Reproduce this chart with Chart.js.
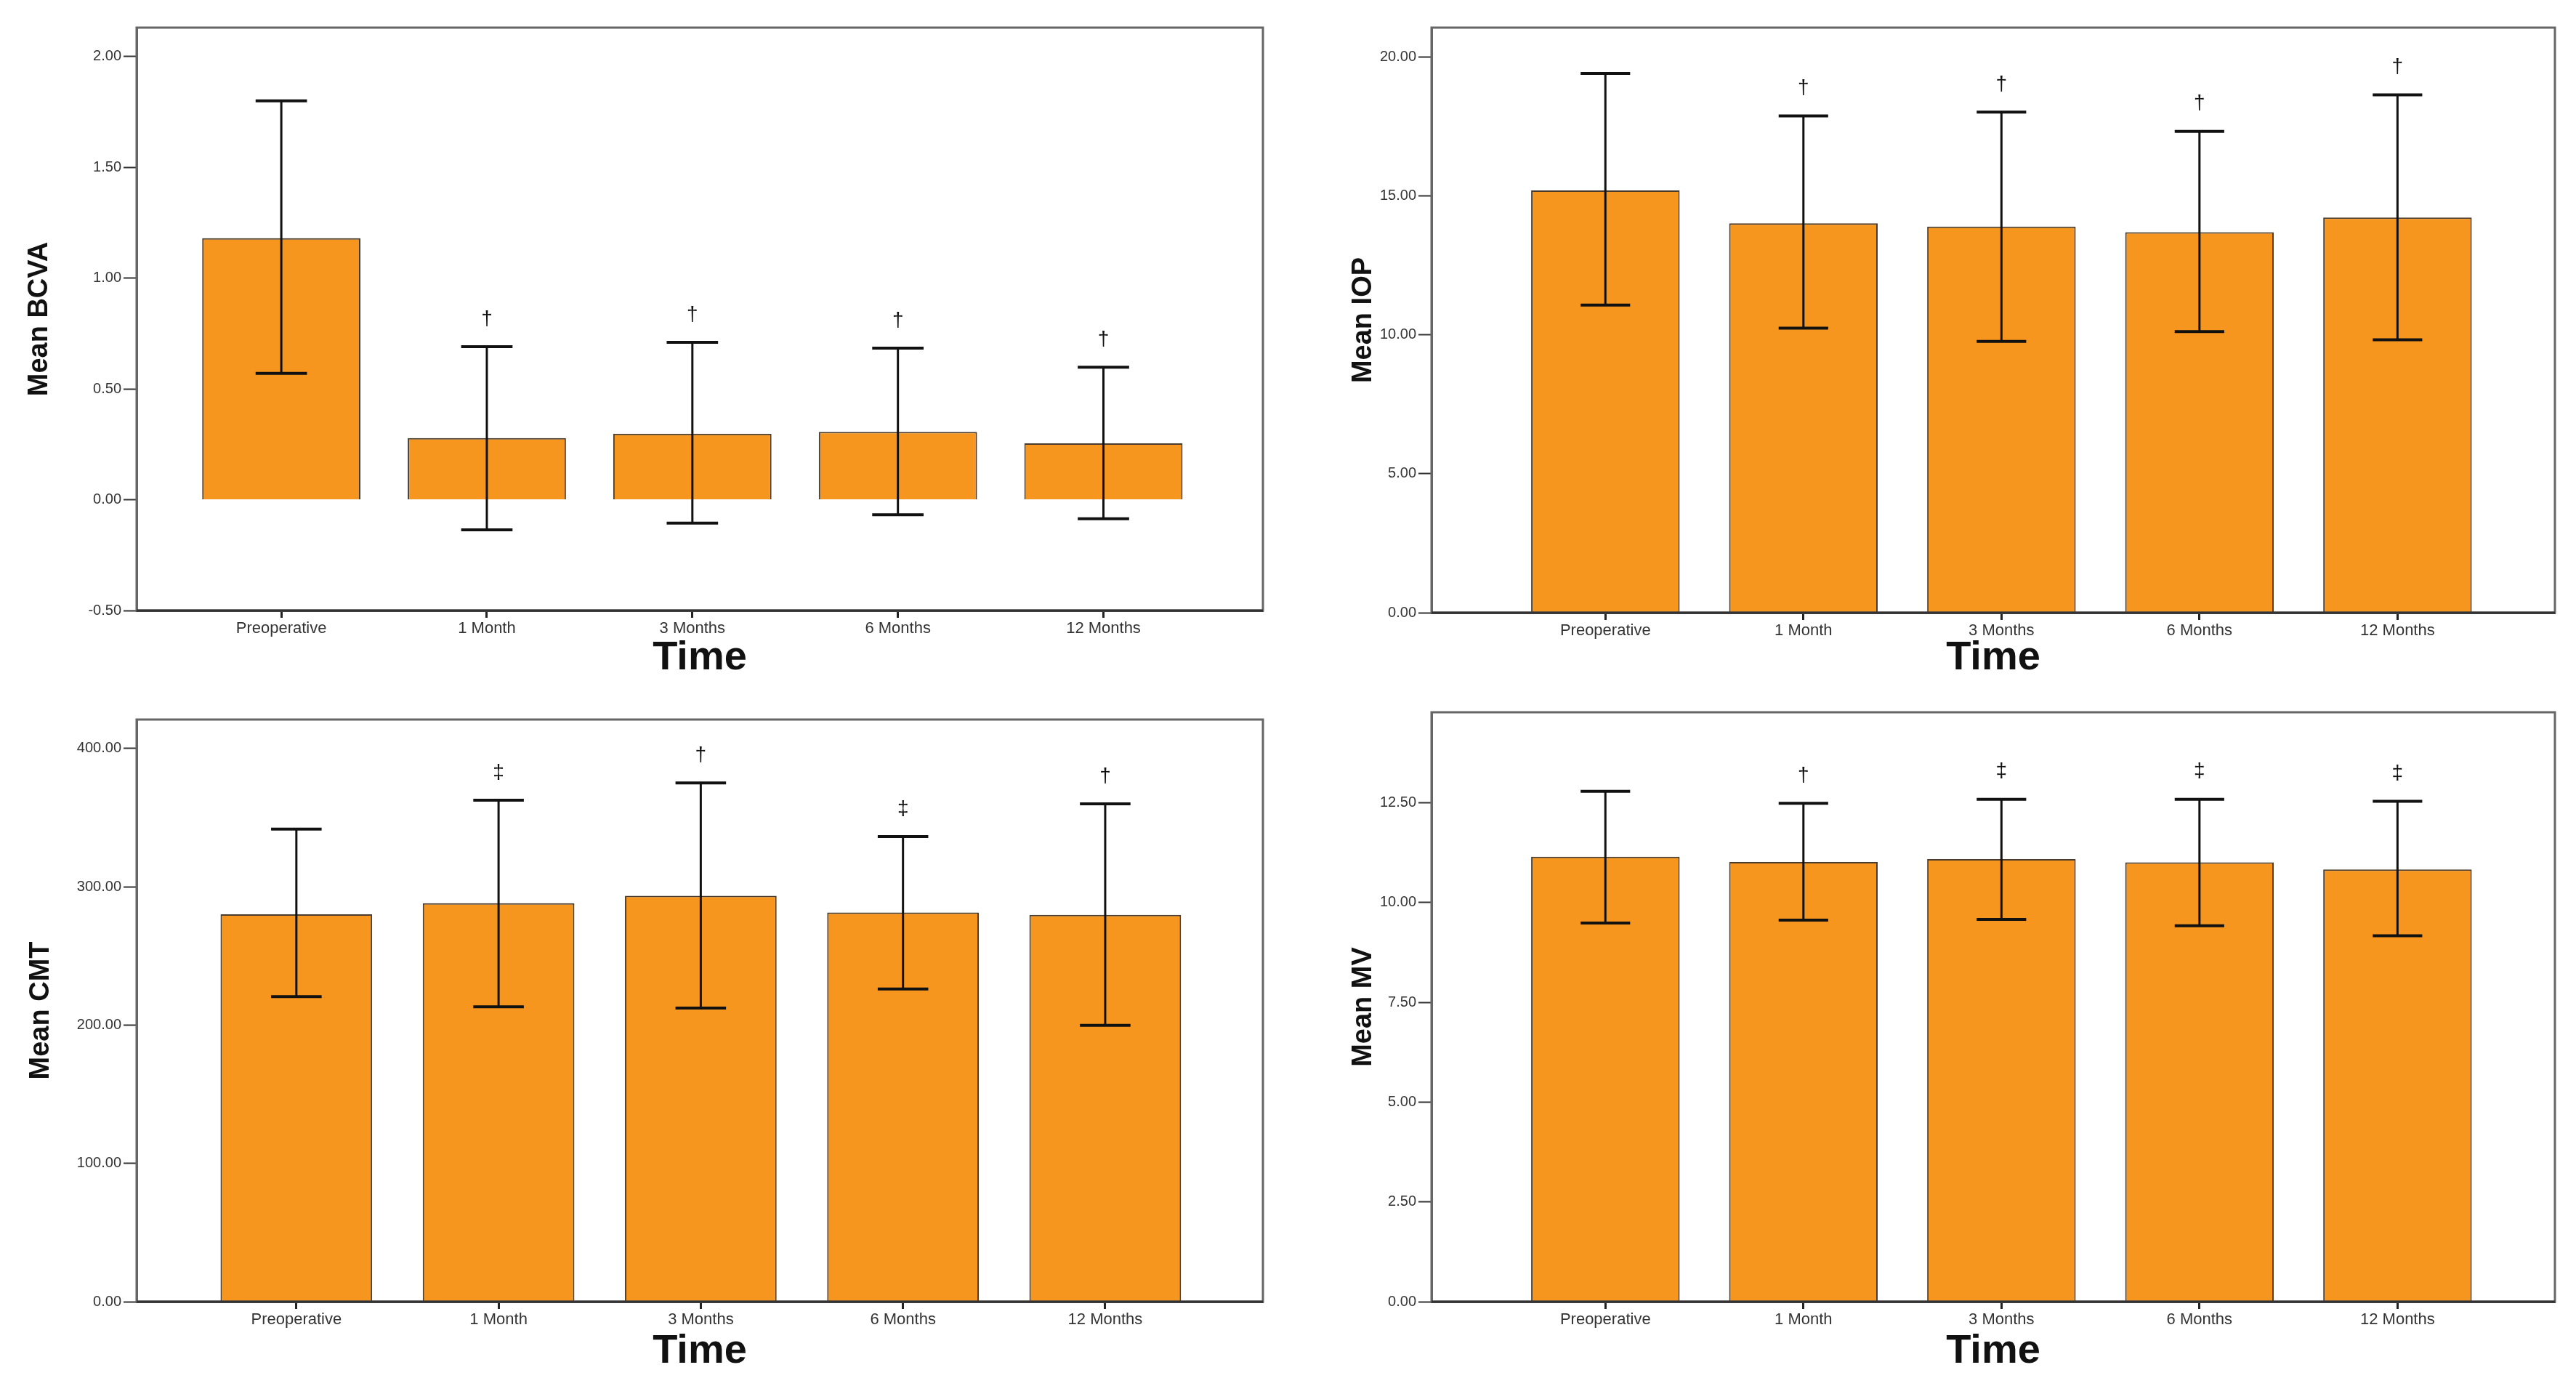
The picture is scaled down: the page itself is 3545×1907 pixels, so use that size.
<!DOCTYPE html>
<html>
<head>
<meta charset="utf-8">
<script src="https://cdn.jsdelivr.net/npm/chart.js@4.4.1/dist/chart.umd.min.js"></script>
<style>
  html, body { margin: 0; padding: 0; background: #fff; }
  .panel { position: absolute; }
</style>
</head>
<body>
<div class="panel" style="left:0;top:0;width:1772px;height:953px"><canvas id="bcva"></canvas></div>
<div class="panel" style="left:1772px;top:0;width:1773px;height:953px"><canvas id="iop"></canvas></div>
<div class="panel" style="left:0;top:953px;width:1772px;height:954px"><canvas id="cmt"></canvas></div>
<div class="panel" style="left:1772px;top:953px;width:1773px;height:954px"><canvas id="mv"></canvas></div>
<script>
/* time points, shared by all four panels */
const categories = ['Preoperative', '1 Month', '3 Months', '6 Months', '12 Months'];

/* BCVA */
const bcvaMean  = [1.18, 0.278, 0.298, 0.306, 0.254];
const bcvaUpper = [1.80, 0.69, 0.71, 0.684, 0.598];
const bcvaLower = [0.57, -0.136, -0.106, -0.068, -0.086];
const bcvaMarks = ['', '†', '†', '†', '†'];
const bcvaTicks = [-0.5, 0, 0.5, 1, 1.5, 2];

/* IOP */
const iopMean  = [15.19, 14.01, 13.89, 13.69, 14.22];
const iopUpper = [19.4, 17.87, 18.01, 17.32, 18.63];
const iopLower = [11.07, 10.24, 9.76, 10.11, 9.82];
const iopMarks = ['', '†', '†', '†', '†'];
const iopTicks = [0, 5, 10, 15, 20];

/* CMT */
const cmtMean  = [280.1, 288.1, 293.5, 281.4, 279.8];
const cmtUpper = [341.8, 362.6, 375.1, 336.4, 360.0];
const cmtLower = [220.6, 213.3, 212.3, 226.1, 199.8];
const cmtMarks = ['', '‡', '†', '‡', '†'];
const cmtTicks = [0, 100, 200, 300, 400];

/* MV */
const mvMean  = [11.15, 11.02, 11.09, 11.01, 10.83];
const mvUpper = [12.79, 12.49, 12.59, 12.59, 12.54];
const mvLower = [9.49, 9.56, 9.58, 9.42, 9.17];
const mvMarks = ['', '†', '‡', '‡', '‡'];
const mvTicks = [0, 2.5, 5, 7.5, 10, 12.5];

Chart.defaults.font.family = '"Liberation Sans", Arial, sans-serif';
Chart.defaults.color = '#222';

// error bars, significance marks and the frame round the plot
function errPlugin(upper, lower, marks){
    return {
        id: 'errbars',
        afterDatasetsDraw(chart){
            const ctx = chart.ctx;
            const x = chart.scales.x, y = chart.scales.y;
            ctx.save();
            ctx.strokeStyle = '#111';
            for(let i = 0; i < upper.length; i++){
                const cx = x.getPixelForValue(i + 1);
                const half = x.getPixelForValue(i + 1.125) - cx;
                const yt = y.getPixelForValue(upper[i]);
                const yb = y.getPixelForValue(lower[i]);
                ctx.lineWidth = 3;
                ctx.beginPath();
                ctx.moveTo(cx, yt); ctx.lineTo(cx, yb);
                ctx.stroke();
                ctx.lineWidth = 4;
                ctx.beginPath();
                ctx.moveTo(cx - half, yt); ctx.lineTo(cx + half, yt);
                ctx.moveTo(cx - half, yb); ctx.lineTo(cx + half, yb);
                ctx.stroke();
                if(marks[i]){
                    ctx.fillStyle = '#111';
                    ctx.font = '28px "Liberation Sans", Arial';
                    ctx.textAlign = 'center';
                    ctx.textBaseline = 'middle';
                    ctx.fillText(marks[i], cx, yt - 38);
                }
            }
            ctx.restore();
        },
        afterDraw(chart){
            const a = chart.chartArea, ctx = chart.ctx;
            ctx.save();
            ctx.strokeStyle = '#666';
            ctx.lineWidth = 3;
            ctx.strokeRect(a.left, a.top, a.right - a.left, a.bottom - a.top);
            ctx.strokeStyle = '#333';
            ctx.beginPath();
            ctx.moveTo(a.left, a.bottom); ctx.lineTo(a.right, a.bottom);
            ctx.stroke();
            ctx.restore();
        }
    };
}

function makePanel(id, title, mean, upper, lower, marks, ticks, yMin, yMax, box){
    const panel = document.getElementById(id).parentNode;
    const h = panel.clientHeight, w = panel.clientWidth;
    return new Chart(document.getElementById(id), {
        type: 'bar',
        data: {
            datasets: [{
                data: mean.map((v, i) => ({x: i + 1, y: v})),
                backgroundColor: '#F7961E',
                borderColor: '#4a3c2c',
                borderWidth: 2,
                barPercentage: box.barPct,
                categoryPercentage: 1.0
            }]
        },
        options: {
            responsive: true,
            maintainAspectRatio: false,
            animation: false,
            devicePixelRatio: 1,
            layout: { padding: { top: box.top, right: w - box.right, bottom: 0, left: 0 } },
            plugins: { legend: { display: false }, tooltip: { enabled: false } },
            scales: {
                x: {
                    type: 'linear',
                    offset: false,
                    min: box.xMin,
                    max: box.xMax,
                    bounds: 'data',
                    afterBuildTicks: s => { s.ticks = categories.map((c, i) => ({value: i + 1})); },
                    afterFit: s => { s.height = h - box.bottom; },
                    ticks: {
                        callback: v => categories[v - 1],
                        autoSkip: false,
                        maxRotation: 0,
                        font: { size: 22 },
                        color: '#333',
                        padding: 2
                    },
                    grid: { offset: false, drawOnChartArea: false, tickLength: 10, tickColor: '#222', tickWidth: 3 },
                    border: { color: '#333', width: 3 },
                    title: {
                        display: true,
                        text: 'Time',
                        font: { size: 56, weight: 'bold' },
                        color: '#111',
                        padding: { top: 0, bottom: 14 }
                    }
                },
                y: {
                    min: yMin,
                    max: yMax,
                    bounds: 'data',
                    afterBuildTicks: s => { s.ticks = ticks.map(v => ({value: v})); },
                    afterFit: s => { s.width = box.left; },
                    ticks: {
                        callback: v => v.toFixed(2),
                        font: { size: 20 },
                        color: '#333',
                        padding: 3
                    },
                    grid: { drawOnChartArea: false, tickLength: 18, tickColor: '#333', tickWidth: 2 },
                    border: { color: '#666', width: 3 },
                    title: {
                        display: true,
                        text: title,
                        font: { size: 38, weight: 'bold' },
                        color: '#111',
                        padding: { top: box.titleX - 23, bottom: 0 }
                    }
                }
            }
        },
        plugins: [errPlugin(upper, lower, marks)]
    });
}

makePanel('bcva', 'Mean BCVA', bcvaMean, bcvaUpper, bcvaLower, bcvaMarks, bcvaTicks, -0.5, 2.13,
    {left: 188, top: 38, right: 1738, bottom: 840, titleX: 55, xMin: 0.296, xMax: 5.776, barPct: 0.77});
makePanel('iop', 'Mean IOP', iopMean, iopUpper, iopLower, iopMarks, iopTicks, 0, 21.05,
    {left: 198, top: 38, right: 1744, bottom: 843, titleX: 105, xMin: 0.122, xMax: 5.795, barPct: 0.75});
makePanel('cmt', 'Mean CMT', cmtMean, cmtUpper, cmtLower, cmtMarks, cmtTicks, 0, 421,
    {left: 188, top: 990 - 953, right: 1738, bottom: 1791 - 953, titleX: 57, xMin: 0.21, xMax: 5.78, barPct: 0.75});
makePanel('mv', 'Mean MV', mvMean, mvUpper, mvLower, mvMarks, mvTicks, 0, 14.77,
    {left: 198, top: 980 - 953, right: 1744, bottom: 1791 - 953, titleX: 105, xMin: 0.122, xMax: 5.795, barPct: 0.75});
</script>
</body>
</html>
